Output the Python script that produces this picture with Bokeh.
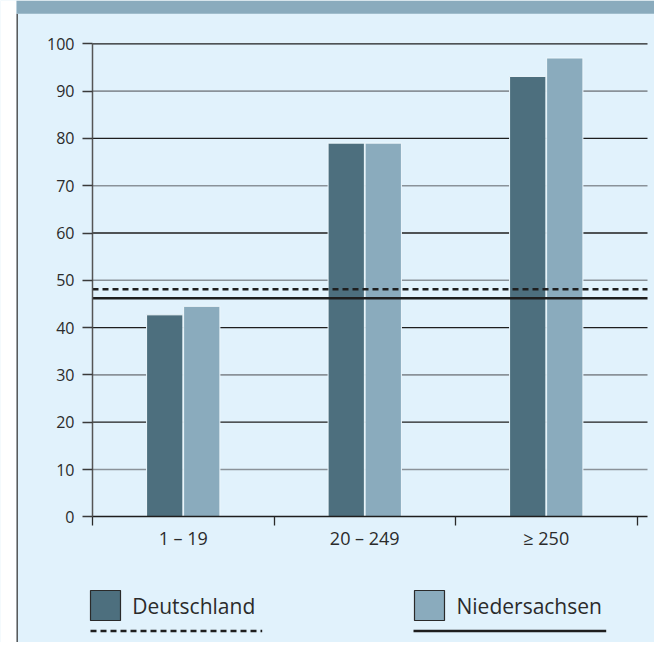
from bokeh.plotting import figure
from bokeh.models import ColumnDataSource, FixedTicker, Range1d
from bokeh.core.properties import value
from bokeh.transform import dodge
from bokeh.embed import file_html
from bokeh.resources import INLINE

# ---- data ----
categories = ["1 – 19", "20 – 249", "≥ 250"]
series_names = ["Deutschland", "Niedersachsen"]
deutschland = [42.7, 79.0, 93.1]
niedersachsen = [44.5, 79.0, 97.0]
averages = [48.1, 46.2]          # Deutschland (dashed), Niedersachsen (solid)
y_ticks = list(range(0, 101, 10))

# ---- style ----
FONT = "Open Sans"
BG = "#e1f2fc"
BAND = "#8aabbd"
D_COLOR = "#4d6f7e"
N_COLOR = "#8aabbd"
TEXT = "#2b2b2b"
DARK = "#1e1e1e"

W, H = 654, 642
# layout geometry (pixels): y axis at x=92, value 0 at y=516.3, 4.73 px per unit,
# each category 181.5 px wide (2 x-units)
AX_X, ZERO_Y, YS, XS = 92.0, 516.3, 4.73, 90.75


def px_x(px):
    return (px - AX_X) / XS


def px_y(py):
    return (ZERO_Y - py) / YS


centers = [2 * i + 1 for i in range(len(categories))]
bounds = [2 * i for i in range(len(categories) + 1)]
X_END = px_x(647)

p = figure(width=W, height=H, output_backend="svg", toolbar_location=None,
           x_range=Range1d(px_x(0), px_x(W)), y_range=Range1d(px_y(H), px_y(0)),
           min_border=0)
p.background_fill_color = BG
p.border_fill_color = BG
p.outline_line_color = None
p.grid.visible = False

# page decorations: left white strip, border line, top band
p.quad(left=px_x(0), right=px_x(16), bottom=px_y(H), top=px_y(0),
       fill_color="white", line_color=None)
p.quad(left=px_x(16), right=px_x(17.4), bottom=px_y(H), top=px_y(13.3),
       fill_color="#4a4a4a", line_color=None)
p.quad(left=px_x(16), right=px_x(W), bottom=px_y(13.3), top=px_y(0),
       fill_color=BAND, line_color=None)

# grid lines (even dark, odd grey)
even = [t for t in y_ticks if t % 20 == 0 and t > 0]
odd = [t for t in y_ticks if t % 20 == 10]
p.segment(x0=0, x1=X_END, y0=even, y1=even, line_color=DARK, line_width=1.3)
p.segment(x0=0, x1=X_END, y0=odd, y1=odd, line_color="#8a9299", line_width=1.6)

# bars
src = ColumnDataSource(dict(x=centers, d=deutschland, n=niedersachsen))
p.vbar(x=dodge("x", -0.204), top="d", width=0.4, source=src,
       fill_color=D_COLOR, line_color="#eef8fd", line_width=1)
p.vbar(x=dodge("x", 0.204), top="n", width=0.4, source=src,
       fill_color=N_COLOR, line_color="#eef8fd", line_width=1)

# average lines
p.segment(x0=0, x1=X_END, y0=averages[0], y1=averages[0], line_color=DARK,
          line_width=2.6, line_dash="6 4")
p.segment(x0=0, x1=X_END, y0=averages[1], y1=averages[1], line_color=DARK,
          line_width=2.6)

# y axis
ya = p.yaxis[0]
ya.fixed_location = 0
ya.bounds = (0, 100)
ya.ticker = FixedTicker(ticks=y_ticks)
ya.major_tick_out = 10
ya.major_tick_in = 0
ya.minor_tick_out = 0
ya.minor_tick_in = 0
ya.major_tick_line_color = "#3a3a3a"
ya.major_tick_line_width = 1.3
ya.axis_line_color = "#555555"
ya.axis_line_width = 1.5
ya.major_label_text_font = FONT
ya.major_label_text_font_size = "16px"
ya.major_label_text_color = TEXT
ya.major_label_standoff = 8

# x axis
xa = p.xaxis[0]
xa.fixed_location = 0
xa.bounds = (0, X_END)
xa.ticker = FixedTicker(ticks=centers, minor_ticks=bounds)
xa.major_label_overrides = {c: lab for c, lab in zip(centers, categories)}
xa.major_tick_out = 0
xa.major_tick_in = 0
xa.minor_tick_out = 9
xa.minor_tick_in = 0
xa.minor_tick_line_color = "#2a2a2a"
xa.minor_tick_line_width = 1.3
xa.axis_line_color = DARK
xa.axis_line_width = 1.5
xa.major_label_text_font = FONT
xa.major_label_text_font_size = "18px"
xa.major_label_text_color = TEXT
xa.major_label_standoff = 0

# legend
leg_box_left = [90, 414]
leg_text_left = [131.7, 456]
leg_line = [(90, 261.7, "6 4"), (413, 605.7, "solid")]
leg_colors = [D_COLOR, N_COLOR]
for i, name in enumerate(series_names):
    bl = leg_box_left[i]
    p.quad(left=px_x(bl), right=px_x(bl + 30), top=px_y(590), bottom=px_y(620),
           fill_color=leg_colors[i], line_color="#2a2a2a", line_width=1.2)
    p.text(x=[px_x(leg_text_left[i])], y=[px_y(605.5)], text=[name],
           text_font=value(FONT), text_font_size="21px", text_color=TEXT,
           text_baseline="alphabetic", text_align="left")
    x0, x1, dash = leg_line[i]
    p.segment(x0=px_x(x0), x1=px_x(x1), y0=px_y(630.5), y1=px_y(630.5),
              line_color=DARK, line_width=2.6, line_dash=dash)

open("out.html", "w").write(file_html(p, INLINE))
